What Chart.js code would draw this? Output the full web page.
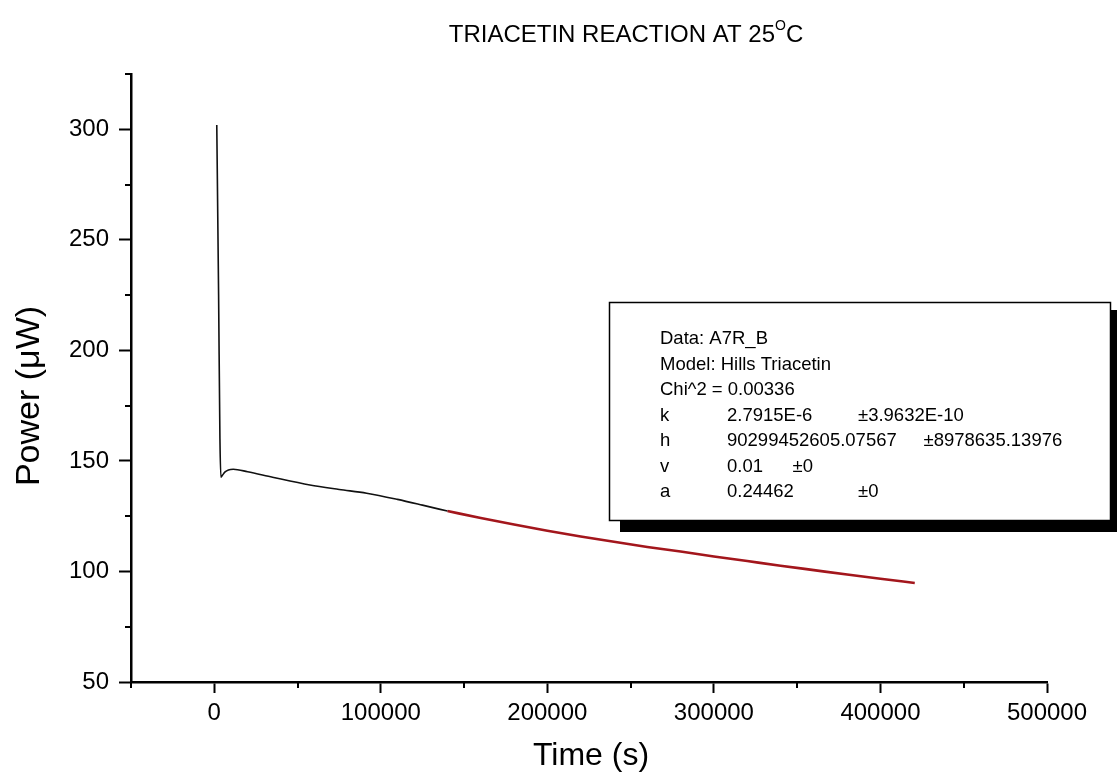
<!DOCTYPE html>
<html>
<head>
<meta charset="utf-8">
<style>
  html, body { margin: 0; padding: 0; background: #fff; }
</style>
<script src="https://cdn.jsdelivr.net/npm/chart.js@4.4.0/dist/chart.umd.min.js"></script>
</head>
<body>
<canvas id="myChart" width="1117" height="775"></canvas>
<script>
// measured power trace (black)
var measTime  = [1500, 2600, 3400, 4000, 5000, 6500, 8500, 11400, 20000, 35000, 57400, 75000, 91500, 110000, 125000, 140000];
var measPower = [301.9, 225, 160, 142.6, 143.6, 145.0, 145.9, 146.2, 145.1, 142.6, 139.1, 137.1, 135.4, 132.6, 130.0, 127.3];

// model fit (red)
var fitTime  = [140000, 160000, 180000, 200000, 220000, 240000, 260000, 280000, 300000, 320000, 340000, 360000, 380000, 400000, 420600];
var fitPower = [127.3, 124.2, 121.2, 118.4, 115.8, 113.4, 111.1, 109.0, 106.8, 104.7, 102.6, 100.6, 98.6, 96.7, 94.8];

var xMajor = 100000;   // labelled x ticks every 100000, minor every 50000
var yMajor = 50;       // labelled y ticks every 50, minor every 25

var titleText = 'TRIACETIN REACTION AT 25';
var xTitle = 'Time (s)';
var yTitle = 'Power (\u03bcW)';

// fit report box
var boxHead = ['Data: A7R_B', 'Model: Hills Triacetin', 'Chi^2 = 0.00336'];
var boxParams = [
  ['k', '2.7915E-6', '\u00b13.9632E-10'],
  ['h', '90299452605.07567', '\u00b18978635.13976'],
  ['v', '0.01', '\u00b10'],
  ['a', '0.24462', '\u00b10']
];

var FONT = '"Liberation Sans", Arial, sans-serif';

function toPoints(xs, ys) {
  return xs.map(function(x, i) { return {x: x, y: ys[i]}; });
}

// short minor ticks, titles and the fit box
var extras = {
  id: 'extras',
  afterDraw: function(chart) {
    var ctx = chart.ctx;
    var xs = chart.scales.x, ys = chart.scales.y;
    var area = chart.chartArea;

    ctx.save();
    ctx.strokeStyle = '#000';
    ctx.lineWidth = 2;
    xs.ticks.forEach(function(t, i) {
      if (t.value % xMajor === 0) return;
      var px = Math.round(xs.getPixelForTick(i));
      ctx.beginPath(); ctx.moveTo(px, area.bottom); ctx.lineTo(px, area.bottom + 6); ctx.stroke();
    });
    ys.ticks.forEach(function(t, i) {
      if (t.value % yMajor === 0) return;
      var py = Math.round(ys.getPixelForTick(i));
      ctx.beginPath(); ctx.moveTo(area.left, py); ctx.lineTo(area.left - 6, py); ctx.stroke();
    });

    // title with superscript O
    ctx.fillStyle = '#000';
    ctx.textBaseline = 'alphabetic';
    ctx.textAlign = 'left';
    ctx.font = '24px ' + FONT;
    var w1 = ctx.measureText(titleText).width;
    var wC = ctx.measureText('C').width;
    ctx.font = '14px ' + FONT;
    var wO = ctx.measureText('O').width;
    var start = 626 - (w1 + wO + wC) / 2;
    ctx.font = '24px ' + FONT;
    ctx.fillText(titleText, start, 42);
    ctx.fillText('C', start + w1 + wO, 42);
    ctx.font = '14px ' + FONT;
    ctx.fillText('O', start + w1, 30);

    // axis titles
    ctx.textAlign = 'center';
    ctx.textBaseline = 'middle';
    ctx.font = '32px ' + FONT;
    ctx.fillText(xTitle, 591, 756);
    ctx.save();
    ctx.translate(30, 396);
    ctx.rotate(-Math.PI / 2);
    ctx.font = '34px ' + FONT;
    ctx.fillText(yTitle, 0, 0);
    ctx.restore();

    // fit box with drop shadow
    ctx.fillStyle = '#000';
    ctx.fillRect(620, 310, 500, 222);
    ctx.fillStyle = '#fff';
    ctx.fillRect(609, 302, 502, 219);
    ctx.lineWidth = 1.5;
    ctx.strokeRect(609.5, 302.5, 501, 218);

    ctx.fillStyle = '#000';
    ctx.font = '18.5px ' + FONT;
    ctx.textAlign = 'left';
    ctx.textBaseline = 'alphabetic';
    var lineY = 344, step = 25.5;
    boxHead.forEach(function(s, i) { ctx.fillText(s, 660, lineY + i * step); });
    boxParams.forEach(function(row, i) {
      var y = lineY + (boxHead.length + i) * step;
      ctx.fillText(row[0], 660, y);
      ctx.fillText(row[1], 727, y);
      var end = 727 + ctx.measureText(row[1]).width + 10;
      var tab = 727;
      while (tab < end) tab += 65.5;
      ctx.fillText(row[2], tab, y);
    });
    ctx.restore();
  }
};

var ctx = document.getElementById('myChart').getContext('2d');
var chart = new Chart(ctx, {
  type: 'line',
  data: {
    datasets: [{
      label: 'A7R_B',
      data: toPoints(measTime, measPower),
      borderColor: '#111',
      borderWidth: 1.6,
      pointRadius: 0,
      cubicInterpolationMode: 'monotone'
    }, {
      label: 'Hills Triacetin fit',
      data: toPoints(fitTime, fitPower),
      borderColor: '#a3161c',
      borderWidth: 2.6,
      pointRadius: 0,
      cubicInterpolationMode: 'monotone'
    }]
  },
  options: {
    responsive: false,
    animation: false,
    devicePixelRatio: 1,
    layout: { padding: { top: 74, right: 70, left: 0, bottom: 0 } },
    plugins: { legend: { display: false }, tooltip: { enabled: false } },
    scales: {
      x: {
        type: 'linear',
        min: -50000,
        max: 500000,
        border: { display: true, color: '#000', width: 2.5 },
        grid: {
          drawOnChartArea: false,
          tickLength: 11,
          tickWidth: 2,
          tickColor: function(c) { return c.tick && c.tick.value % xMajor === 0 ? '#000' : 'rgba(0,0,0,0)'; }
        },
        ticks: {
          stepSize: 50000,
          autoSkip: false,
          maxRotation: 0,
          padding: 6,
          color: '#000',
          font: { family: FONT, size: 24 },
          callback: function(v) { return v % xMajor === 0 ? String(v) : ''; }
        },
        afterFit: function(s) { s.height = 93; s.paddingLeft = 0; s.paddingRight = 0; }
      },
      y: {
        min: 50,
        max: 325,
        border: { display: true, color: '#000', width: 2.5 },
        grid: {
          drawOnChartArea: false,
          tickLength: 12,
          tickWidth: 2,
          tickColor: function(c) { return c.tick && c.tick.value % yMajor === 0 ? '#000' : 'rgba(0,0,0,0)'; }
        },
        ticks: {
          stepSize: 25,
          autoSkip: false,
          padding: 10,
          color: '#000',
          font: { family: FONT, size: 24 },
          callback: function(v) { return v % yMajor === 0 ? String(v) : ''; }
        },
        afterFit: function(s) { s.width = 131; s.paddingTop = 0; s.paddingBottom = 0; }
      }
    }
  },
  plugins: [extras]
});
</script>
</body>
</html>
